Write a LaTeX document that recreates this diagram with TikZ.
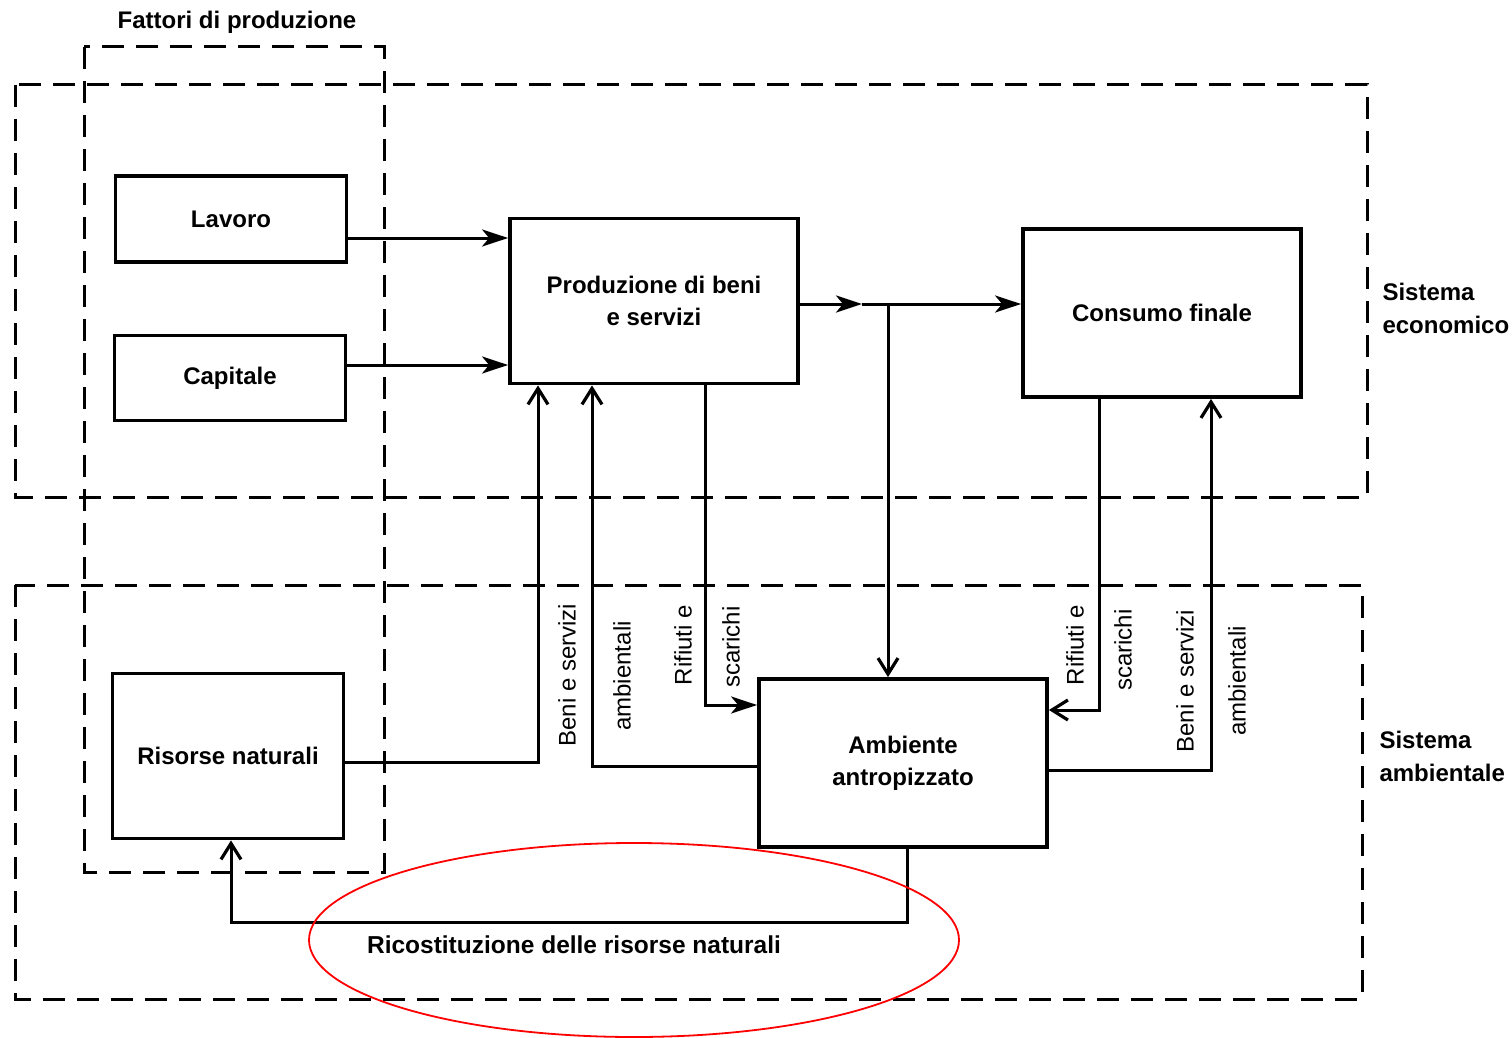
\documentclass[tikz,border=0pt]{standalone}
\usepackage{fontspec}
\setmainfont{Liberation Sans}
\usetikzlibrary{arrows.meta}
\begin{document}
\begin{tikzpicture}[x=1pt,y=-1pt,
  block/.style={draw,line width=3.8pt,inner sep=0pt,align=center,
    font=\fontsize{24}{32}\selectfont\bfseries},
  flow/.style={line width=3pt},
  fillarrow/.style={-{Stealth[length=26pt,width=17pt,inset=7pt]}},
  barb/.style={-{Straight Barb[length=16pt,width=20pt,line width=3.2pt]}},
  region/.style={line width=3pt,dash pattern=on 22pt off 12pt},
  vlabel/.style={rotate=90,font=\fontsize{24}{28}\selectfont},
  side/.style={align=left,anchor=west,font=\fontsize{24}{33}\selectfont\bfseries},
  title/.style={font=\fontsize{24}{28}\selectfont\bfseries}
]
\useasboundingbox (0,0) rectangle (1512,1038);

% dashed system boundaries
\draw[region] (84,47) rectangle (384,872);
\draw[region] (15,85) rectangle (1367,497);
\draw[region] (15,585) rectangle (1362,999);

\node[title] (fattori) at (237,22) {Fattori di produzione};
\node[side] (eco) at (1379,308) {Sistema\\economico};
\node[side] (ambsys) at (1376,756) {Sistema\\ambientale};

% blocks
\node[block,minimum width=231,minimum height=86] (lav) at (231,219) {Lavoro};
\node[block,minimum width=231,minimum height=85] (cap) at (230,378) {Capitale};
\node[block,minimum width=231,minimum height=165] (ris) at (228,756) {Risorse naturali};
\node[block,minimum width=288,minimum height=165] (prod) at (654,301) {Produzione di beni\\e servizi};
\node[block,minimum width=278,minimum height=168] (cons) at (1162,313) {Consumo finale};
\node[block,minimum width=288,minimum height=168] (amb) at (903,763) {Ambiente\\antropizzato};

% bend points of the flows
\coordinate (ylav) at (0,238);
\coordinate (ycap) at (0,365);
\coordinate (mid) at (862,304);
\coordinate (split) at (888,304);
\coordinate (c1) at (538,762);
\coordinate (c2) at (592,766);
\coordinate (c3) at (705,705);
\coordinate (c4) at (1099,710);
\coordinate (c5) at (1211,770);
\coordinate (c6) at (907,922);
\coordinate (c7) at (231,922);

% flows
\draw[flow,fillarrow] (lav.east |- ylav) -- (prod.west |- ylav);
\draw[flow,fillarrow] (cap.east |- ycap) -- (prod.west |- ycap);
\draw[flow,fillarrow] (prod.east |- mid) -- (mid);
\draw[flow] (mid) -- (split);
\draw[flow,fillarrow] (split) -- (cons.west |- split);
\draw[flow,barb] (split) -- (split |- amb.north);
\draw[flow,barb] (ris.east |- c1) -| (prod.south -| c1);
\draw[flow,barb] (amb.west |- c2) -| (prod.south -| c2);
\draw[flow,fillarrow] (prod.south -| c3) |- (amb.west |- c3);
\draw[flow,barb] (cons.south -| c4) |- (amb.east |- c4);
\draw[flow,barb] (amb.east |- c5) -| (cons.south -| c5);
\draw[flow,barb] (amb.south -| c6) |- (c7) -- (ris.south -| c7);

% flow labels
\node[vlabel] (l1) at (567,675) {Beni e servizi};
\node[vlabel] (l2) at (622,676) {ambientali};
\node[vlabel] (l3) at (683,645) {Rifiuti e};
\node[vlabel] (l4) at (731,647) {scarichi};
\node[vlabel] (l5) at (1075,645) {Rifiuti e};
\node[vlabel] (l6) at (1123,650) {scarichi};
\node[vlabel] (l7) at (1185,681) {Beni e servizi};
\node[vlabel] (l8) at (1237,681) {ambientali};
\node[font=\fontsize{24.5}{30}\selectfont\bfseries] (ricos) at (574,945) {Ricostituzione delle risorse naturali};

% highlight
\draw[red,line width=1.8pt] (634,940) ellipse [x radius=325, y radius=97];
\end{tikzpicture}
\end{document}
